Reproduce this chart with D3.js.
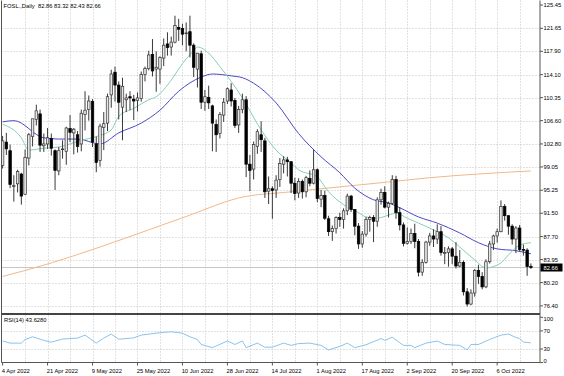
<!DOCTYPE html>
<html><head><meta charset="utf-8">
<script src="https://cdn.jsdelivr.net/npm/d3@7"></script>
<style>
html,body{margin:0;padding:0;background:#fff;}
svg{display:block;}
text{font-family:"Liberation Sans",Arial,sans-serif;font-size:5.8px;fill:#000;}
</style></head><body>
<svg id="c" width="564" height="376"></svg>
<script>
// ---------- DATA ----------
const symbolName = "FOSL.,Daily";
const lastBarOHLC = [82.86, 83.32, 82.43, 82.66];
const rsiTitle = "RSI(14) 43.6280";
const opens = [99.3,103.1,101.7,96.0,96.3,97.9,94.6,100.5,104.0,106.8,
107.7,102.5,102.8,103.7,101.7,98.4,101.9,101.6,105.3,104.6,
104.3,102.8,107.6,108.4,109.7,102.8,100.1,105.5,106.2,110.8,
114.5,112.4,108.8,110.0,110.5,110.1,109.9,110.2,114.1,115.1,
117.4,115.0,115.0,116.8,119.1,118.6,119.4,121.8,121.6,120.8,
121.1,118.9,115.0,117.5,109.6,110.4,109.0,106.0,104.5,107.5,
109.8,111.6,109.9,105.9,108.4,110.0,99.5,98.7,102.4,104.3,
103.3,95.1,95.5,95.3,97.0,99.5,100.2,99.9,96.4,94.8,
96.7,95.0,97.2,96.4,98.6,93.8,94.4,90.6,88.5,89.0,
90.8,90.5,91.9,94.3,92.1,89.4,86.5,88.1,90.5,90.8,
90.2,93.7,94.9,92.5,93.1,97.0,91.6,89.6,86.6,86.9,
88.2,86.9,81.9,83.5,86.8,87.8,87.3,88.5,85.1,85.1,
85.7,84.5,82.9,83.5,78.7,76.7,78.5,82.2,81.2,79.5,
83.6,86.5,87.8,88.5,92.6,91.1,89.4,87.3,89.1,85.6,
85.5,82.86];
const highs = [104.1,104.6,102.7,97.7,98.6,98.1,101.9,104.6,106.5,109.2,
108.4,104.5,105.4,104.5,101.9,102.3,103.4,105.6,107.5,105.4,
104.9,108.4,111.4,110.7,110.1,104.0,106.1,108.0,111.0,114.9,
115.4,113.0,113.6,111.0,111.4,110.8,111.2,114.6,115.4,118.0,
119.9,117.9,117.1,120.0,121.0,120.3,123.7,123.2,122.4,122.6,
123.7,119.2,117.6,118.0,111.6,112.3,109.2,106.8,108.0,110.3,
112.0,112.7,110.3,109.0,111.0,110.6,101.0,103.2,105.2,106.5,
103.8,97.5,95.9,97.7,100.5,100.8,100.7,100.0,97.3,97.2,
97.0,97.6,98.5,101.9,98.8,95.3,95.2,91.1,89.5,91.0,
91.6,92.3,94.7,94.5,92.2,89.9,88.6,90.9,91.1,91.2,
94.1,95.5,95.9,93.4,97.7,97.6,92.5,90.0,89.2,89.0,
89.8,87.3,84.0,87.0,88.3,88.9,89.7,89.4,86.0,86.1,
86.0,86.8,85.5,83.8,79.3,79.1,82.4,83.1,81.9,84.0,
87.0,88.0,89.0,93.6,93.0,91.2,89.7,89.4,89.6,86.4,
85.8,83.32];
const lows = [98.8,101.0,95.6,93.4,94.9,92.9,94.5,99.3,102.4,105.8,
101.5,101.5,102.0,100.9,95.3,97.7,100.4,99.4,103.1,101.1,
101.4,101.6,105.0,106.6,102.3,98.2,99.1,101.8,104.9,108.7,
109.7,106.8,103.4,108.0,108.3,106.7,108.1,109.7,113.0,114.8,
113.8,111.3,112.6,115.5,117.2,117.2,119.2,119.6,118.9,117.9,
116.9,113.7,112.0,108.5,108.2,108.5,101.6,101.5,103.7,106.4,
109.3,108.9,105.4,104.6,107.8,97.4,95.1,97.0,101.2,101.5,
94.0,93.0,90.6,94.0,95.8,98.0,97.5,94.8,93.6,94.0,
93.9,94.1,95.9,96.2,93.3,92.5,90.4,87.8,87.0,88.2,
89.3,89.0,91.2,91.7,87.9,85.7,85.9,87.7,88.5,86.8,
89.3,92.9,92.3,90.8,92.9,90.6,88.7,86.1,86.4,86.5,
85.8,81.2,81.3,83.3,86.2,86.0,86.5,84.6,83.2,82.8,
83.2,82.5,82.7,78.1,76.3,76.5,77.9,80.0,79.1,79.3,
83.3,85.5,86.7,88.4,90.3,88.0,86.4,85.0,85.3,84.6,
81.3,82.43];
const closes = [103.3,102.0,96.2,96.0,98.3,94.3,100.6,104.3,106.9,108.2,
102.6,102.8,103.8,102.1,98.5,101.7,102.0,105.4,104.7,105.2,
102.4,107.8,108.3,109.8,103.1,99.8,105.7,106.1,110.5,114.2,
112.4,109.6,112.2,110.3,110.3,109.8,110.3,114.1,115.1,117.3,
114.7,115.3,116.9,118.9,118.5,119.4,122.1,121.5,120.7,120.9,
118.9,115.3,117.6,109.6,110.5,109.5,106.2,104.3,107.6,109.6,
111.8,109.8,105.8,108.4,110.0,99.5,98.5,102.7,104.8,103.5,
95.0,95.5,95.2,96.9,99.6,100.2,99.9,96.4,94.7,96.7,
95.0,97.3,96.4,98.6,93.9,94.4,90.7,88.5,89.0,90.8,
90.5,91.9,94.3,92.1,89.4,86.5,88.1,90.5,90.8,90.2,
93.7,94.9,92.5,93.1,97.0,91.6,89.6,86.6,86.9,88.2,
86.9,81.9,83.5,86.8,87.8,87.3,88.5,85.1,85.1,85.7,
84.5,82.9,83.5,78.7,76.7,78.5,82.2,81.2,79.5,83.6,
86.5,87.8,88.5,92.6,91.1,89.4,87.3,89.1,85.6,85.5,
82.8,82.66];
const lastPrice = 82.66;

// moving averages: [bar index, value]
const maSlow = [[0,106.4],[3,106.6],[11,103.8],[15,103.6],[20,103.6],[26,102.8],[31,104.6],[37,106.2],[42,108.3],[47,111.4],[53,113.7],[56,114.2],[61,113.9],[64,113.6],[67,112.7],[73,109.5],[79,104.5],[85,100.7],[90,98.1],[94,95.6],[99,93.7],[103,93.2],[106,92.4],[111,90.9],[116,89.9],[122,88.3],[127,86.7],[132,85.7],[137,85.4],[141,84.9]];
const maFast = [[0,106.0],[5,103.8],[7,101.8],[11,102.1],[15,102.3],[21,103.4],[25,104.0],[29,105.1],[31,107.3],[35,108.6],[39,110.0],[41,110.5],[45,113.2],[48,115.9],[51,118.0],[52,118.6],[55,117.6],[58,115.4],[61,113.0],[64,110.3],[69,105.1],[73,101.8],[77,99.7],[79,98.6],[84,97.4],[87,95.0],[91,92.9],[95,91.6],[97,90.9],[100,90.7],[103,91.2],[105,91.5],[108,90.7],[111,89.9],[115,88.8],[119,87.5],[122,86.0],[126,83.9],[129,82.6],[133,83.4],[135,84.7],[138,86.3],[141,86.7]];
const ma200 = [[0,81.2],[13,83.4],[26,86.0],[39,88.8],[50,91.2],[63,94.0],[77,95.0],[90,95.8],[103,96.6],[114,97.3],[127,97.9],[141,98.4]];
const rsi = [[0,47.7],[2,43],[5,43],[6,51],[8,57],[11,49],[13,45],[16,52],[20,54],[22,60.7],[25,43],[27,54],[29,63],[31,51.6],[35,54.6],[37,60.7],[42,66],[45,68],[48,65],[50,57],[52,51],[53,40],[56,33],[60,47.7],[62,40],[64,47.7],[65,33],[68,43],[70,34],[72,34],[75,43],[77,38],[79,42],[82,43],[85,38],[87,28],[90,35.7],[92,43],[94,33],[97,39.5],[101,53],[102,49],[104,56],[107,38],[109,38],[110,33],[113,43],[116,47.7],[118,40],[122,38],[124,28],[125,40],[127,40],[130,51],[133,60.7],[135,63],[137,55.5],[138,53],[139,45.5],[141,43.6]];

const priceTicks = [125.45,121.65,117.90,114.10,110.35,106.60,102.80,99.05,95.25,91.50,87.70,83.95,80.20,76.40];
const rsiTicks = [100,70,30,0];
const rsiLevels = [70,30];
const dateLabels = ["4 Apr 2022","21 Apr 2022","9 May 2022","25 May 2022","10 Jun 2022","28 Jun 2022","14 Jul 2022","1 Aug 2022","17 Aug 2022","2 Sep 2022","20 Sep 2022","6 Oct 2022"];
const dateIdx = [0,12,24,36,48,60,72,84,96,108,120,132];

// ---------- LAYOUT ----------
const L=1.5, R=540, T=0.5, MB=314, RT=315, RB=362.5;
const svg = d3.select("#c");
const x = d3.scaleLinear().domain([0,141]).range([2.6,530.9]);
const y = d3.scaleLinear().domain([76.40,125.45]).range([305.9,5]);
const yr = d3.scaleLinear().domain([0,100]).range([362.6,317.3]);

const gridCol="#c4c4c4";
const g = svg.append("g");
const vGrid = d3.range(6,141,6);
g.selectAll("line.vg").data(vGrid).join("line")
  .attr("x1",d=>Math.round(x(d))+0.5).attr("x2",d=>Math.round(x(d))+0.5)
  .attr("y1",T).attr("y2",RB).attr("stroke",gridCol).attr("stroke-width",1).attr("stroke-dasharray","1,2");
g.selectAll("line.hg").data(priceTicks.slice(1)).join("line")
  .attr("x1",L).attr("x2",R).attr("y1",d=>Math.round(y(d))+0.5).attr("y2",d=>Math.round(y(d))+0.5)
  .attr("stroke",gridCol).attr("stroke-dasharray","1,2");
g.selectAll("line.rg").data(rsiLevels).join("line")
  .attr("x1",L).attr("x2",R).attr("y1",d=>Math.round(yr(d))+0.5).attr("y2",d=>Math.round(yr(d))+0.5)
  .attr("stroke",gridCol).attr("stroke-dasharray","1,2");

svg.append("clipPath").attr("id","cm").append("rect").attr("x",L).attr("y",T).attr("width",R-L).attr("height",MB-T);
svg.append("clipPath").attr("id","cr").append("rect").attr("x",L).attr("y",RT).attr("width",R-L).attr("height",RB-RT);
const m = svg.append("g").attr("clip-path","url(#cm)");

m.append("line").attr("x1",L).attr("x2",R).attr("y1",y(lastPrice)).attr("y2",y(lastPrice)).attr("stroke","#b8b8b8").attr("stroke-width",0.8);

const lineGen = sc => d3.line().x(d=>x(d[0])).y(d=>sc(d[1])).curve(d3.curveMonotoneX);
m.append("path").attr("d",lineGen(y)(ma200)).attr("fill","none").attr("stroke","#f0b88a").attr("stroke-width",1);
m.append("path").attr("d",lineGen(y)(maSlow)).attr("fill","none").attr("stroke","#4a4ac4").attr("stroke-width",1);
m.append("path").attr("d",lineGen(y)(maFast)).attr("fill","none").attr("stroke","#86cfb0").attr("stroke-width",1);

const idx = d3.range(opens.length);
const bw = 2.5;
m.selectAll("line.wick").data(idx).join("line")
  .attr("x1",i=>x(i)).attr("x2",i=>x(i)).attr("y1",i=>y(highs[i])).attr("y2",i=>y(lows[i]))
  .attr("stroke","#222").attr("stroke-width",0.9);
m.selectAll("rect.body").data(idx).join("rect")
  .attr("x",i=>x(i)-bw/2).attr("width",bw)
  .attr("y",i=>y(Math.max(opens[i],closes[i])))
  .attr("height",i=>Math.max(0.8,Math.abs(y(opens[i])-y(closes[i]))))
  .attr("fill",i=>closes[i]>=opens[i]?"#e6e6e6":"#000")
  .attr("stroke",i=>closes[i]>=opens[i]?"#333":"#000").attr("stroke-width",0.7);

const rg = svg.append("g").attr("clip-path","url(#cr)");
rg.append("path").attr("d",d3.line().x(d=>x(d[0])).y(d=>yr(d[1]))(rsi)).attr("fill","none").attr("stroke","#7fbbea").attr("stroke-width",0.9);

const fc="#555";
svg.append("line").attr("x1",L).attr("x2",L).attr("y1",T).attr("y2",RB).attr("stroke",fc);
svg.append("line").attr("x1",R).attr("x2",R).attr("y1",T).attr("y2",RB).attr("stroke",fc);
svg.append("line").attr("x1",L).attr("x2",R).attr("y1",MB).attr("y2",MB).attr("stroke","#444").attr("stroke-width",2);
svg.append("line").attr("x1",L).attr("x2",R).attr("y1",RB).attr("y2",RB).attr("stroke",fc);

const ax = svg.append("g");
ax.selectAll("line.t").data(priceTicks).join("line")
  .attr("x1",R).attr("x2",R+3).attr("y1",d=>y(d)).attr("y2",d=>y(d)).attr("stroke",fc);
ax.selectAll("text.p").data(priceTicks).join("text")
  .attr("x",R+3.5).attr("y",d=>y(d)).attr("dy","0.35em").text(d=>d.toFixed(2));
ax.append("rect").attr("x",R+0.5).attr("y",y(lastPrice)-4).attr("width",22).attr("height",8).attr("fill","#000");
ax.append("text").attr("x",R+3.5).attr("y",y(lastPrice)).attr("dy","0.35em").style("fill","#fff").text(lastPrice.toFixed(2));
ax.selectAll("text.r").data(rsiTicks).join("text")
  .attr("x",R+3.5).attr("y",d=>d===100?yr(d)+2:(d===0?yr(d)-2:yr(d))).attr("dy","0.35em").text(d=>d);
ax.selectAll("line.rt").data(rsiTicks).join("line")
  .attr("x1",R).attr("x2",R+3).attr("y1",d=>yr(d)).attr("y2",d=>yr(d)).attr("stroke",fc);

ax.selectAll("line.dt").data(dateIdx).join("line")
  .attr("x1",i=>x(i)).attr("x2",i=>x(i)).attr("y1",RB).attr("y2",RB+3).attr("stroke",fc);
ax.selectAll("text.d").data(dateIdx).join("text")
  .attr("x",(i)=>x(i)-0.8).attr("y",370.5).attr("dy","0.35em").text((i,k)=>dateLabels[k]);

// title: a single text line
svg.append("text").attr("x",3.5).attr("y",5.5).attr("dy","0.35em").style("white-space","pre")
  .text(symbolName + "  " + lastBarOHLC.map(v=>v.toFixed(2)).join(" "));
svg.append("text").attr("x",4).attr("y",319.8).attr("dy","0.35em").text(rsiTitle);
</script>
</body></html>
